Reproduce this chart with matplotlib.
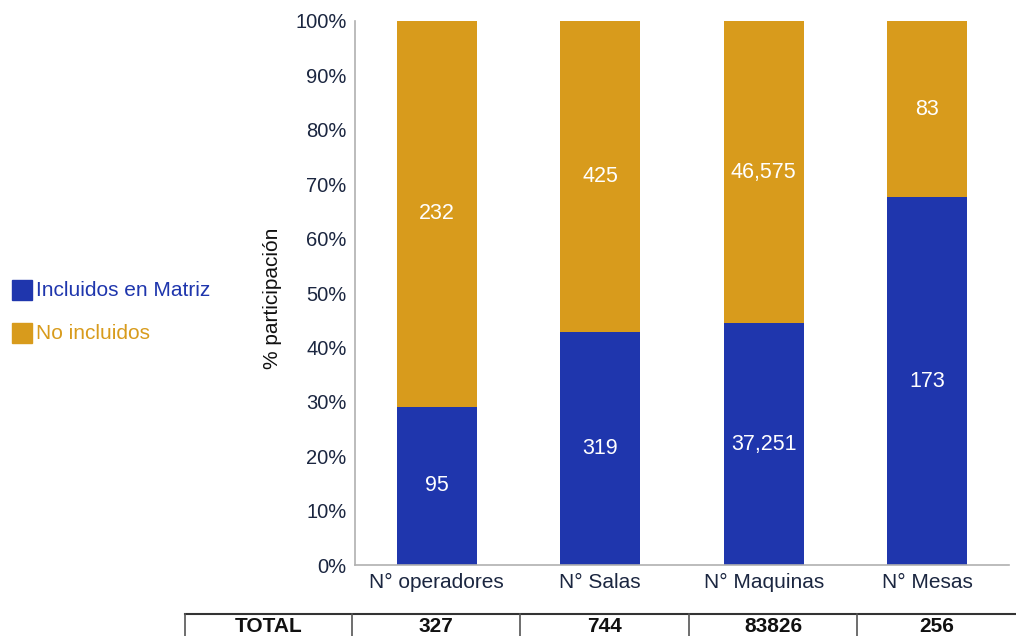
import matplotlib.pyplot as plt
from matplotlib.patches import Rectangle

categories = ["N° operadores", "N° Salas", "N° Maquinas", "N° Mesas"]
incluidos = [95, 319, 37251, 173]
no_incluidos = [232, 425, 46575, 83]
totals = [327, 744, 83826, 256]
yticks = [0, 10, 20, 30, 40, 50, 60, 70, 80, 90, 100]

BLUE = "#1f36ad"
GOLD = "#d89b1c"
TICK = "#1b2640"

plt.rcParams["font.family"] = ["Liberation Sans", "DejaVu Sans"]

fig = plt.figure(figsize=(10.16, 6.36), dpi=100)
ax = fig.add_axes([0.3494, 0.1116, 0.6437, 0.8554])

pct_in = [100 * a / (a + b) for a, b in zip(incluidos, no_incluidos)]
pct_out = [100 * b / (a + b) for a, b in zip(incluidos, no_incluidos)]
x = list(range(len(categories)))

ax.bar(x, pct_in, width=0.49, color=BLUE)
ax.bar(x, pct_out, width=0.49, bottom=pct_in, color=GOLD)

for i in x:
    ax.text(i, pct_in[i] / 2, f"{incluidos[i]:,}", ha="center", va="center",
            color="white", fontsize=15.5)
    ax.text(i, pct_in[i] + pct_out[i] / 2, f"{no_incluidos[i]:,}",
            ha="center", va="center", color="white", fontsize=15.5)

ax.set_xlim(-0.5, len(categories) - 0.5)
ax.set_ylim(0, 100)
ax.set_yticks(yticks)
ax.set_yticklabels([f"{t}%" for t in yticks])
ax.set_xticks(x)
ax.set_xticklabels(categories)
ax.tick_params(axis="y", length=0, labelsize=14.5, colors=TICK, pad=6)
ax.tick_params(axis="x", length=0, labelsize=15, colors=TICK, pad=6)
ax.set_ylabel("% participación", fontsize=15, color="#111111")
ax.yaxis.set_label_coords(-0.112, 0.49)
for side in ["top", "right"]:
    ax.spines[side].set_visible(False)
for side in ["left", "bottom"]:
    ax.spines[side].set_color("#b0b0b0")
    ax.spines[side].set_linewidth(1.2)

# legend on the left
legend_items = [("Incluidos en Matriz", BLUE, 290), ("No incluidos", GOLD, 333)]
for label, color, ypx in legend_items:
    yf = 1 - ypx / 636
    fig.patches.append(Rectangle((12 / 1016, yf - 10 / 636), 20 / 1016, 20 / 636,
                                 transform=fig.transFigure, color=color))
    fig.text(36 / 1016, yf, label, color=color, fontsize=15, va="center", ha="left")

# totals table at the bottom
col_edges = [185, 352, 520, 689, 857, 1016]
top_y = 1 - 614 / 636
fig.add_artist(plt.Line2D([185 / 1016, 1], [top_y, top_y], transform=fig.transFigure,
                          color="#333333", linewidth=1.5))
for xe in col_edges[:-1]:
    fig.add_artist(plt.Line2D([xe / 1016, xe / 1016], [0, top_y],
                              transform=fig.transFigure, color="#555555", linewidth=1.2))
cells = ["TOTAL"] + [str(t) for t in totals]
for j, txt in enumerate(cells):
    xc = (col_edges[j] + col_edges[j + 1]) / 2 / 1016
    fig.text(xc, 1 - 627 / 636, txt, ha="center", va="center", fontsize=15,
             fontweight="bold", color="#111111")

fig.savefig("out.png", dpi=100)
